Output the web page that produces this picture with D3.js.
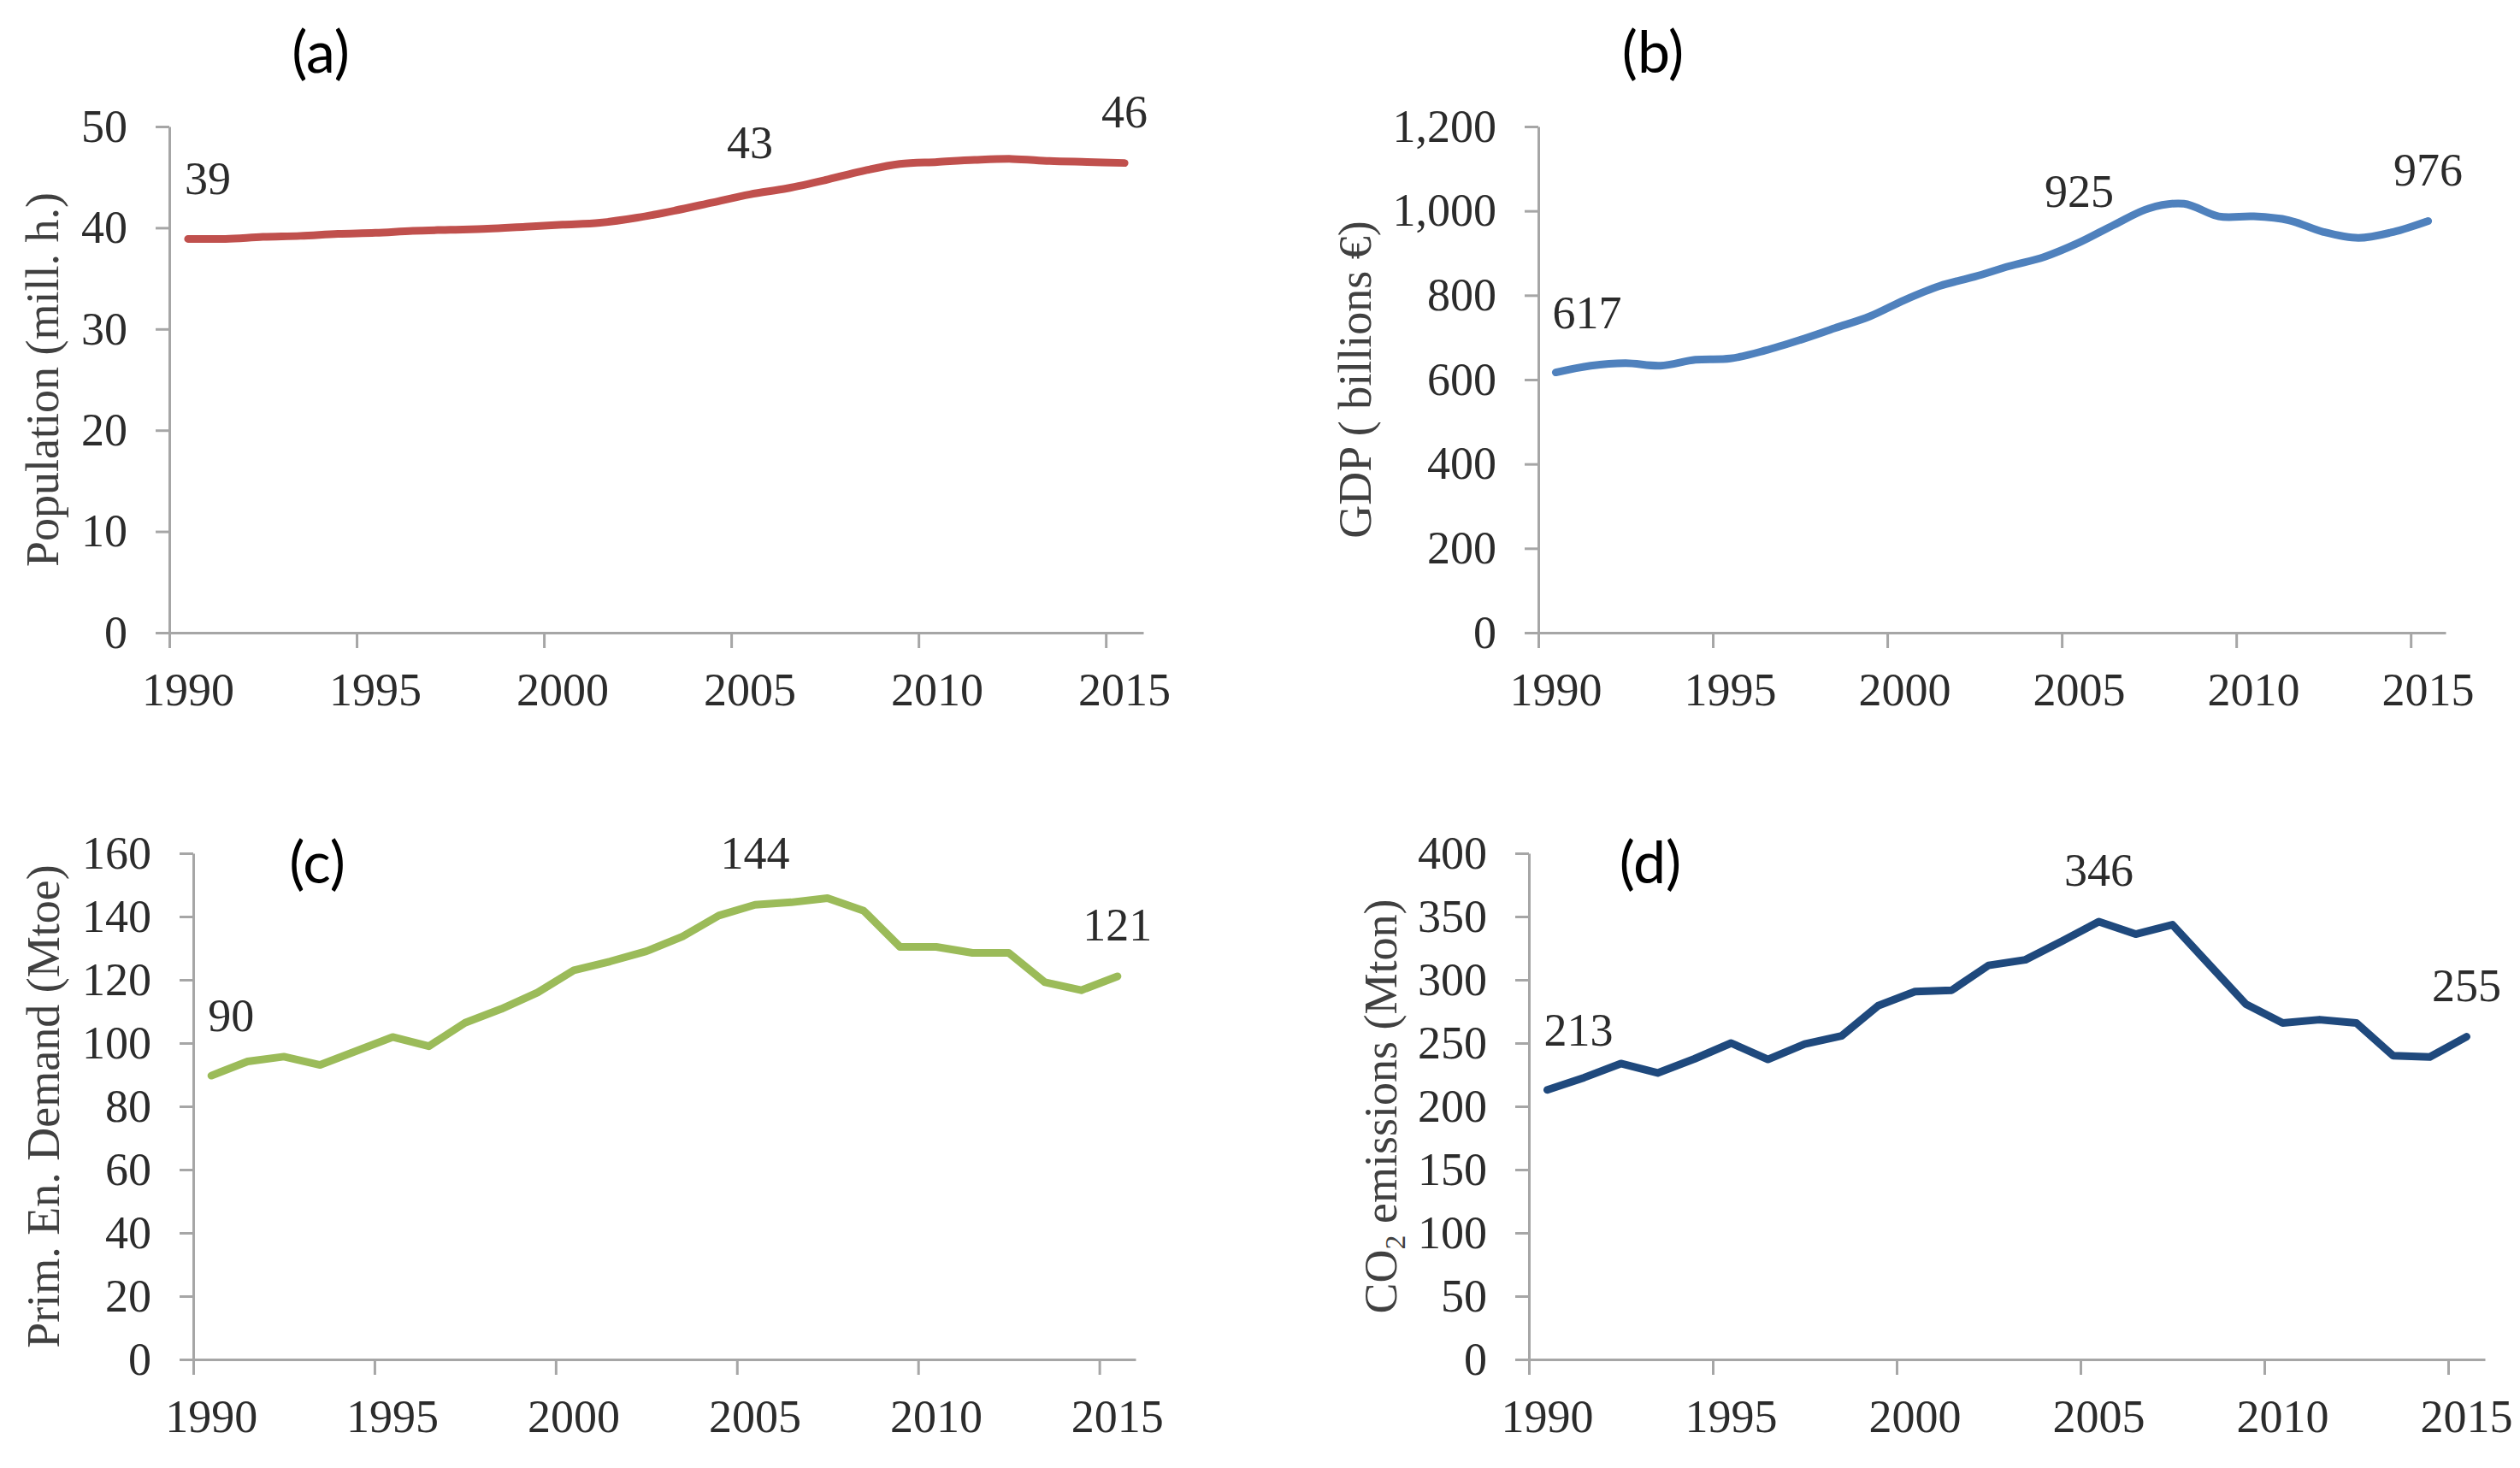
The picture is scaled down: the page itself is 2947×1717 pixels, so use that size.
<!DOCTYPE html>
<html>
<head>
<meta charset="utf-8">
<script src="https://cdn.jsdelivr.net/npm/d3@7"></script>
<style>
  body { margin: 0; background: #fff; }
  svg { display: block; }
</style>
</head>
<body>
<div id="chart"></div>
<script>
var width = 2947;
var height = 1717;

// data
var years = d3.range(1990, 2016);
var xTickYears = [1990, 1995, 2000, 2005, 2010, 2015];
var labelYears = [1990, 2005, 2015];

var population = [38.9, 38.9, 39.1, 39.2, 39.4, 39.5, 39.7, 39.8, 39.9, 40.1, 40.3, 40.5, 41.0,
                  41.7, 42.5, 43.3, 43.9, 44.7, 45.6, 46.3, 46.5, 46.7, 46.8, 46.6, 46.5, 46.4];
var gdp = [617, 633, 639, 633, 647, 650, 669, 694, 722, 750, 789, 822, 844,
           869, 891, 925, 967, 1006, 1017, 987, 987, 978, 950, 936, 950, 976];
var energy = [89.7, 94.2, 95.7, 93.1, 97.5, 101.9, 99.0, 106.4, 110.8, 116.0, 123.0, 125.8, 129.0,
              133.7, 140.3, 143.7, 144.5, 145.8, 141.8, 130.4, 130.4, 128.5, 128.5, 119.2, 116.7, 121.1];
var co2 = [213, 222.7, 233.8, 226.4, 237.5, 250, 237.1, 249.3, 255.6, 279.6, 290.7, 291.8, 311.4,
           315.8, 330.6, 346, 336.1, 343.5, 312.1, 280.7, 265.9, 268.5, 265.9, 240.1, 239, 255];

var popTicks = [0, 10, 20, 30, 40, 50];
var gdpTicks = [0, 200, 400, 600, 800, 1000, 1200];
var energyTicks = [0, 20, 40, 60, 80, 100, 120, 140, 160];
var co2Ticks = [0, 50, 100, 150, 200, 250, 300, 350, 400];

var axisColor = "#a6a6a6";
var textColor = "#2b2b2b";
var serif = "'Liberation Serif', 'Times New Roman', serif";
var fontSize = 54;

var svg = d3.select("#chart").append("svg")
        .attr("width", width)
        .attr("height", height);

var panels = [
    {letter: "(a)", lx: 375, ly: 62, values: population, ticks: popTicks, color: "#c0504d", smooth: true,
        x0: 198, x1: 1337, top: 148, bottom: 740, title: "Population (mill. h.)", tx: 50},
    {letter: "(b)", lx: 1933, ly: 62, values: gdp, ticks: gdpTicks, color: "#4f81bd", smooth: true,
        x0: 1799, x1: 2860, top: 148, bottom: 740, title: "GDP ( billions €)", tx: 1585},
    {letter: "(c)", lx: 371, ly: 1010, values: energy, ticks: energyTicks, color: "#9bbb59", smooth: false,
        x0: 226, x1: 1328, top: 998, bottom: 1590, title: "Prim. En. Demand (Mtoe)", tx: 51},
    {letter: "(d)", lx: 1930, ly: 1010, values: co2, ticks: co2Ticks, color: "#1f497d", smooth: false,
        x0: 1788, x1: 2906, top: 998, bottom: 1590, title: "CO2 emissions (Mton)", tx: 1615}
];

panels.forEach(function(p) {
    drawPanel(p);
});

function drawPanel(p) {
    var g = svg.append("g");
    var x = d3.scaleLinear()
            .domain([years[0] - 0.5, years[years.length - 1] + 0.5])
            .range([p.x0, p.x1]);
    var y = d3.scaleLinear()
            .domain([0, d3.max(p.ticks)])
            .range([p.bottom, p.top]);

    // y axis
    g.append("g")
            .attr("transform", "translate(" + p.x0 + ",0)")
            .call(d3.axisLeft(y).tickValues(p.ticks).tickSize(16).tickSizeOuter(0)
                    .tickPadding(33).tickFormat(d3.format(",")));
    // x axis: ticks between categories
    var boundaries = xTickYears.map(function(d) { return d - 0.5; });
    g.append("g")
            .attr("transform", "translate(0," + p.bottom + ")")
            .call(d3.axisBottom(x).tickValues(boundaries).tickSize(18).tickSizeOuter(0).tickFormat(""));

    g.selectAll(".domain, .tick line")
            .attr("stroke", axisColor)
            .attr("stroke-width", 3);
    g.selectAll(".tick text")
            .attr("font-family", serif)
            .attr("font-size", fontSize)
            .attr("fill", textColor);

    // year labels centred on categories
    g.selectAll(".xlab")
            .data(xTickYears)
            .enter().append("text")
            .attr("class", "xlab")
            .attr("x", function(d) { return x(d); })
            .attr("y", p.bottom + 85)
            .attr("text-anchor", "middle")
            .attr("font-family", serif)
            .attr("font-size", fontSize)
            .attr("fill", textColor)
            .text(function(d) { return d; });

    // series line
    var line = d3.line()
            .x(function(d, i) { return x(years[i]); })
            .y(function(d) { return y(d); })
            .curve(p.smooth ? d3.curveCatmullRom.alpha(0.5) : d3.curveLinear);
    g.append("path")
            .datum(p.values)
            .attr("d", line)
            .attr("fill", "none")
            .attr("stroke", p.color)
            .attr("stroke-width", 9)
            .attr("stroke-linejoin", "round")
            .attr("stroke-linecap", "round");

    // data labels
    labelYears.forEach(function(yr, k) {
        var i = years.indexOf(yr);
        var v = p.values[i];
        g.append("text")
                .attr("x", k == 0 ? x(yr) - 4 : x(yr))
                .attr("y", y(v) - (k == 0 ? 70 : 60) + 18)
                .attr("text-anchor", k == 0 ? "start" : "middle")
                .attr("font-family", serif)
                .attr("font-size", fontSize)
                .attr("fill", textColor)
                .text(Math.round(v));
    });

    // panel letter
    g.append("text")
            .attr("x", p.lx)
            .attr("y", p.ly + 23)
            .attr("text-anchor", "middle")
            .attr("font-family", "Lato, 'Open Sans', sans-serif")
            .attr("font-size", 68)
            .attr("fill", "#000")
            .text(p.letter);

    // y axis title
    var mid = (p.top + p.bottom) / 2;
    var t = g.append("text")
            .attr("transform", "translate(" + (p.tx + 18) + "," + mid + ") rotate(-90)")
            .attr("text-anchor", "middle")
            .attr("font-family", serif)
            .attr("font-size", fontSize)
            .attr("fill", "#404040");
    if (p.title.indexOf("CO2") == 0) {
        t.append("tspan").text("CO");
        t.append("tspan").attr("font-size", 34).attr("dy", 10).text("2");
        t.append("tspan").attr("dy", -10).text(" emissions (Mton)");
    } else {
        t.text(p.title);
    }
}
</script>
</body>
</html>
